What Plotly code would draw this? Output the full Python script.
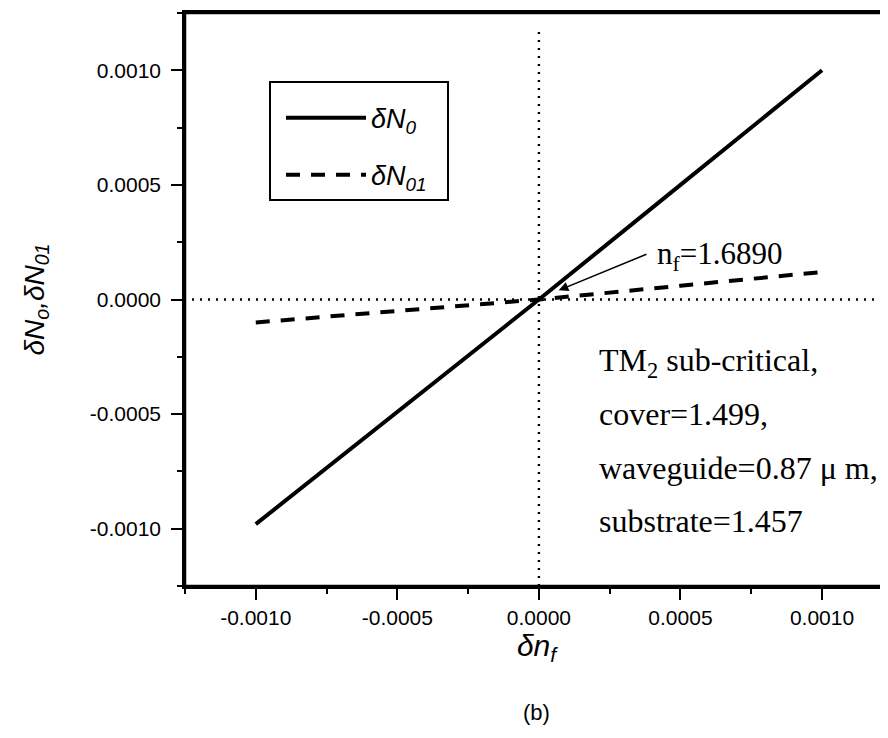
import plotly.graph_objects as go

# ---- data ----
dn_f = [-0.0010, -0.0005, 0.0, 0.0005, 0.0010]
dN_0 = [-0.00098, -0.00049, 0.0, 0.00050, 0.00100]
dN_01 = [-0.00010, -0.00005, 0.0, 0.00006, 0.00012]

x_tickvals = [-0.0010, -0.0005, 0.0, 0.0005, 0.0010]
x_ticktext = ["-0.0010", "-0.0005", "0.0000", "0.0005", "0.0010"]
y_tickvals = [-0.0010, -0.0005, 0.0, 0.0005, 0.0010]
y_ticktext = ["-0.0010", "-0.0005", "0.0000", "0.0005", "0.0010"]

info_lines = ["TM<sub>2</sub> sub-critical,", "cover=1.499,",
              "waveguide=0.87 \u03bc m,", "substrate=1.457"]
info_y = [-0.000275, -0.000498, -0.000734, -0.000965]

SANS = "Liberation Sans, Arial, sans-serif"
SERIF = "Liberation Serif, Times New Roman, serif"

fig = go.Figure()
fig.add_trace(go.Scatter(x=dn_f, y=dN_0, mode="lines", name="\u03b4N<sub>0</sub>",
                         legendgroup="a",
                         line=dict(color="black", width=4)))
fig.add_trace(go.Scatter(x=dn_f, y=dN_01, mode="lines", name="\u03b4N<sub>01</sub>\u00a0\u00a0",
                         legendgroup="b",
                         line=dict(color="black", width=4, dash="14px,11px")))

# frame (left, bottom, top; right side is cropped in the original)
frame = dict(color="black", width=2.5)
fig.add_shape(type="line", xref="paper", yref="paper", x0=0, x1=0, y0=0, y1=1, line=frame, layer="above")
fig.add_shape(type="line", xref="paper", yref="paper", x0=0, x1=1, y0=0, y1=0, line=frame, layer="above")
fig.add_shape(type="line", xref="paper", yref="paper", x0=0, x1=1, y0=1, y1=1, line=frame, layer="above")

# dotted reference lines at zero
fig.add_shape(type="line", xref="x", yref="paper", x0=0, x1=0, y0=0, y1=0.975,
              line=dict(color="black", width=2.4, dash="2px,6px"))
fig.add_shape(type="line", xref="paper", yref="y", x0=0.01, x1=1, y0=0, y1=0,
              line=dict(color="black", width=2.4, dash="2px,6px"))

# arrow + label
fig.add_annotation(x=0.00007, y=0.00004, ax=0.000385, ay=0.0002, axref="x", ayref="y",
                   xref="x", yref="y", text="", showarrow=True, arrowhead=2,
                   arrowsize=1.2, arrowwidth=1.6, arrowcolor="black")
fig.add_annotation(x=0.00041, y=0.00019, xref="x", yref="y", xanchor="left", yanchor="middle",
                   text="n<sub>f</sub>=1.6890", showarrow=False,
                   font=dict(family=SERIF, size=31, color="black"))
for t, yy in zip(info_lines, info_y):
    fig.add_annotation(x=0.000205, y=yy, xref="x", yref="y", xanchor="left", yanchor="middle",
                       text=t, showarrow=False, font=dict(family=SERIF, size=32, color="black"))

fig.add_annotation(x=0.5, y=-0.22, xref="paper", yref="paper", text="(b)", showarrow=False,
                   xanchor="center", yanchor="middle",
                   font=dict(family=SANS, size=22, color="black"))

axis_common = dict(showgrid=False, zeroline=False, showline=True, linecolor="black",
                   linewidth=2.5, ticks="outside", ticklen=11, tickwidth=2, tickcolor="black",
                   tickfont=dict(family=SANS, size=21, color="black"),
                   minor=dict(ticks="outside", ticklen=5, tickwidth=2, tickcolor="black",
                              dtick=0.00025, tick0=0))

fig.update_xaxes(range=[-0.00125, 0.001233], tickvals=x_tickvals, ticktext=x_ticktext,
                 mirror=True,
                 title=dict(text="\u03b4n<sub>f</sub>", standoff=0,
                            font=dict(family=SANS, size=30, color="black", style="italic")),
                 **axis_common)
fig.update_yaxes(range=[-0.00125, 0.00125], tickvals=y_tickvals, ticktext=y_ticktext,
                 mirror=False, ticklabelstandoff=6,
                 title=dict(text="\u03b4N<sub>o</sub>,\u03b4N<sub>01</sub>", standoff=38,
                            font=dict(family=SANS, size=28, color="black", style="italic")),
                 **axis_common)

fig.update_layout(
    width=880, height=730,
    margin=dict(l=177, r=0, t=5, b=152, autoexpand=False),
    plot_bgcolor="white", paper_bgcolor="white",
    showlegend=True,
    legend=dict(x=0.1195, y=0.881, xanchor="left", yanchor="top",
                bordercolor="black", borderwidth=2, bgcolor="white",
                font=dict(family=SANS, size=27, color="black", style="italic"),
                title=dict(text=" ", font=dict(size=8)),
                tracegroupgap=19, itemwidth=80, indentation=10),
)

fig.write_html("out.html")
